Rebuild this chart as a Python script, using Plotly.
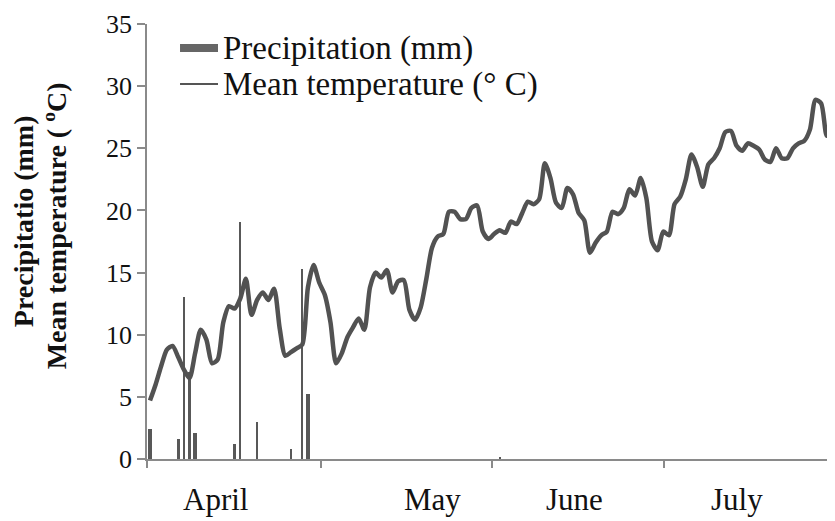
import plotly.graph_objects as go

# ---- data ----
days = list(range(122))  # day index from 1 April
temperature = [
    4.7, 6.0, 7.5, 8.8, 9.1, 8.2, 7.2, 6.5, 8.5, 10.4,
    9.6, 7.7, 8.0, 11.0, 12.3, 12.1, 12.9, 14.5, 11.6, 12.8,
    13.4, 12.8, 13.7, 10.5, 8.3, 8.6, 8.9, 9.2, 13.8, 15.6,
    14.2, 13.2, 11.0, 7.7, 8.5, 9.8, 10.6, 11.3, 10.4, 13.8,
    15.0, 14.6, 15.2, 13.4, 14.3, 14.4, 12.0, 11.2, 12.2, 14.5,
    17.0, 17.9, 18.1, 19.9, 19.9, 19.3, 19.3, 20.2, 20.4, 18.3,
    17.7, 18.1, 18.4, 18.2, 19.1, 18.9, 19.8, 20.7, 20.5, 20.9,
    23.8, 22.6, 20.6, 20.2, 21.8, 21.3, 19.8, 19.2, 16.6, 17.4,
    18.0, 18.3, 19.9, 19.7, 20.2, 21.7, 21.2, 22.6, 21.0, 17.5,
    16.8, 18.3, 18.0, 20.5, 21.1, 22.5, 24.5, 23.5, 21.9, 23.7,
    24.2, 25.0, 26.3, 26.4, 25.2, 24.8, 25.4, 25.2, 24.9, 24.1,
    23.9, 25.0, 24.2, 24.2, 25.0, 25.4, 25.6, 26.5, 28.9, 28.6,
    26.0, 26.8,
]
rain_days = [0, 5, 6, 7, 8, 15, 16, 19, 25, 27, 28, 62]
rain_mm = [2.4, 1.6, 13.0, 7.0, 2.1, 1.2, 19.1, 3.0, 0.8, 15.3, 5.2, 0.2]

months = ["April", "May", "June", "July"]
month_label_pos = [11.7, 50.0, 75.2, 104.0]
month_bounds = [-0.5, 30.3, 60.6, 91.1]
y_ticks = [0, 5, 10, 15, 20, 25, 30, 35]
legend_labels = ["Precipitation (mm)", "Mean temperature (° C)"]

# bar drawing widths (style, in day units)
bar_widths = [0.6, 0.6, 0.45, 0.6, 0.6, 0.6, 0.3, 0.3, 0.3, 0.4, 0.6, 0.4]

SERIF = "Liberation Serif, Times New Roman, serif"
AXIS_GRAY = "#8a8a8a"

fig = go.Figure()

fig.add_trace(go.Bar(
    x=rain_days, y=rain_mm, width=bar_widths,
    marker=dict(color="#585858", line=dict(width=0)),
    name=legend_labels[0],
))

fig.add_trace(go.Scatter(
    x=days, y=temperature, mode="lines",
    line=dict(color="#525252", width=4.5, shape="spline", smoothing=0.7),
    name=legend_labels[1],
))

annotations = []
for m, p in zip(months, month_label_pos):
    annotations.append(dict(
        x=p, y=-0.092, xref="x", yref="paper", text=m, showarrow=False,
        font=dict(family=SERIF, size=31, color="#111"),
        xanchor="center", yanchor="middle",
    ))
# y-axis title (two lines)
annotations.append(dict(
    x=-0.18, y=0.547, xref="paper", yref="paper",
    text="<b>Precipitatio (mm)</b>", textangle=-90, showarrow=False,
    font=dict(family=SERIF, size=28, color="#111"),
    xanchor="center", yanchor="middle",
))
annotations.append(dict(
    x=-0.133, y=0.536, xref="paper", yref="paper",
    text="<b>Mean temperature ( <sup>o</sup>C)</b>", textangle=-90, showarrow=False,
    font=dict(family=SERIF, size=28, color="#111"),
    xanchor="center", yanchor="middle",
))
# legend texts
for lab, yy in zip(legend_labels, [0.9448, 0.862]):
    annotations.append(dict(
        x=0.107, y=yy, xref="paper", yref="paper", text=lab, showarrow=False,
        font=dict(family=SERIF, size=33, color="#111"),
        xanchor="left", yanchor="middle",
    ))

shapes = [
    dict(type="line", xref="paper", yref="paper", x0=0.048, x1=0.1032,
         y0=0.9448, y1=0.9448, line=dict(color="#666666", width=8)),
    dict(type="line", xref="paper", yref="paper", x0=0.048, x1=0.1032,
         y0=0.862, y1=0.862, line=dict(color="#555555", width=2)),
]

fig.update_layout(
    width=827, height=513,
    margin=dict(l=139, r=0, t=16, b=62),
    paper_bgcolor="white", plot_bgcolor="white",
    bargap=0,
    showlegend=False,
    xaxis=dict(
        range=[-0.53, 121.45],
        showgrid=False, zeroline=False,
        showline=True, linecolor=AXIS_GRAY, linewidth=1.5,
        tickmode="array", tickvals=month_bounds, ticktext=["", "", "", ""],
        ticks="outside", ticklen=7, tickcolor=AXIS_GRAY, tickwidth=1.5,
    ),
    yaxis=dict(
        range=[0, 35],
        showgrid=False, zeroline=False,
        showline=True, linecolor=AXIS_GRAY, linewidth=1.5,
        tickmode="array", tickvals=y_ticks,
        ticks="outside", ticklen=8, tickcolor=AXIS_GRAY, tickwidth=1.5,
        tickfont=dict(family=SERIF, size=26, color="#111"),
    ),
    annotations=annotations,
    shapes=shapes,
)

fig.write_html("out.html")
